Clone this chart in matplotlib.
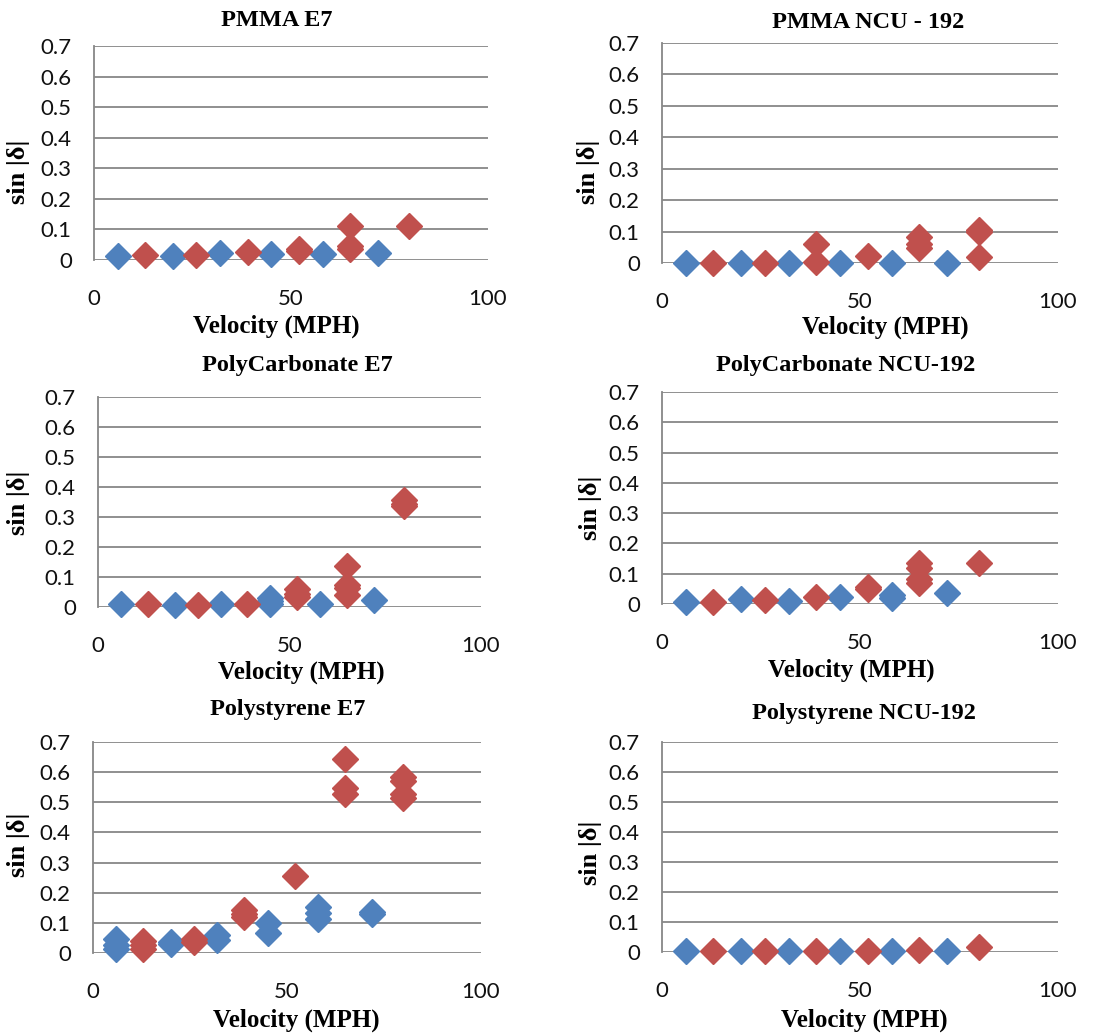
import matplotlib
matplotlib.use('Agg')
import matplotlib.pyplot as plt

# velocities (MPH) of the two series
blue_v = [6, 20, 32, 45, 58, 72]
red_v = [13, 26, 39, 52, 65, 80]

# sin|delta| readings at each velocity (several readings per velocity)
pmma_e7_blue = [[0.013], [0.014], [0.022], [0.018], [0.018], [0.022]]
pmma_e7_red = [[0.016], [0.016], [0.025], [0.028, 0.035], [0.112, 0.045, 0.035], [0.112]]

pmma_ncu_blue = [[0.001], [0.001], [0.001], [0.001], [0.001], [0.001]]
pmma_ncu_red = [[0.001], [0.001], [0.059, 0.004], [0.022], [0.084, 0.062, 0.047], [0.105, 0.100, 0.020]]

pc_e7_blue = [[0.009], [0.008], [0.009], [0.031, 0.020, 0.011], [0.011], [0.025]]
pc_e7_red = [[0.009], [0.008], [0.009], [0.061, 0.045, 0.033], [0.136, 0.072, 0.065, 0.039], [0.357, 0.345, 0.336]]

pc_ncu_blue = [[0.008], [0.015], [0.011], [0.022], [0.030, 0.019], [0.035]]
pc_ncu_red = [[0.008], [0.013], [0.022], [0.057, 0.048], [0.134, 0.118, 0.081, 0.070], [0.137]]

ps_e7_blue = [[0.048, 0.026, 0.014], [0.037, 0.029], [0.061, 0.042], [0.101, 0.067], [0.153, 0.133, 0.114], [0.137, 0.129]]
ps_e7_red = [[0.040, 0.026, 0.014], [0.048, 0.037], [0.142, 0.131, 0.120], [0.256], [0.642, 0.547, 0.528], [0.584, 0.569, 0.527, 0.514]]

ps_ncu_blue = [[0.002], [0.002], [0.002], [0.002], [0.002], [0.002]]
ps_ncu_red = [[0.002], [0.002], [0.002], [0.003], [0.008], [0.016]]

titles = ['PMMA E7', 'PMMA NCU - 192', 'PolyCarbonate E7', 'PolyCarbonate NCU-192',
          'Polystyrene E7', 'Polystyrene NCU-192']
blue_sets = [pmma_e7_blue, pmma_ncu_blue, pc_e7_blue, pc_ncu_blue, ps_e7_blue, ps_ncu_blue]
red_sets = [pmma_e7_red, pmma_ncu_red, pc_e7_red, pc_ncu_red, ps_e7_red, ps_ncu_red]
y_ticks = [0, 0.1, 0.2, 0.3, 0.4, 0.5, 0.6, 0.7]
y_tick_labels = ['0', '0.1', '0.2', '0.3', '0.4', '0.5', '0.6', '0.7']
x_ticks = [0, 50, 100]

W, H = 1109, 1035
# plot boxes in pixels: x0, x1, ytop, ybottom
boxes = [(94, 488, 46, 260), (662, 1058, 43, 263),
         (98, 481, 397, 607), (662, 1058, 392, 604),
         (93, 481, 742, 953), (662, 1058, 742, 952)]
# title, xlabel, ylabel centres in pixels
title_pos = [(277, 20), (868, 22), (297, 365), (846, 365), (288, 710), (864, 713)]
xlab_pos = [(276, 326), (885, 327), (301, 672), (851, 670), (296, 1020), (864, 1020)]
ylab_pos = [(18, 172), (588, 172), (18, 503), (590, 508), (18, 845), (590, 853)]

blue = '#4F81BD'
red = '#C0504D'
grid_c = '#878787'
serif = 'Liberation Serif'
sans = 'Lato'

fig = plt.figure(figsize=(W / 100, H / 100), dpi=100)

for i in range(6):
    x0, x1, yt, yb = boxes[i]
    ax = fig.add_axes([x0 / W, 1 - yb / H, (x1 - x0) / W, (yb - yt) / H])
    for vals, sets, col in [(blue_v, blue_sets[i], blue), (red_v, red_sets[i], red)]:
        xs = []
        ys = []
        for v, reads in zip(vals, sets):
            for r in reads:
                xs.append(v)
                ys.append(r)
        ax.plot(xs, ys, linestyle='none', marker='D', markersize=13.5, color=col,
                markeredgecolor=col, zorder=3, clip_on=False)
    ax.set_xlim(0, 100)
    ax.set_ylim(0, 0.7)
    ax.set_yticks(y_ticks)
    ax.set_yticklabels(y_tick_labels)
    ax.set_xticks(x_ticks)
    for yv in y_ticks:
        ax.axhline(yv, color=grid_c, linewidth=1.3, zorder=1)
    for s in ['top', 'right', 'bottom']:
        ax.spines[s].set_visible(False)
    ax.spines['left'].set_color(grid_c)
    ax.spines['left'].set_linewidth(1.3)
    ax.tick_params(axis='y', length=0, pad=16, labelsize=16)
    ax.tick_params(axis='x', length=0, pad=21, labelsize=16)
    for lab in ax.get_xticklabels() + ax.get_yticklabels():
        lab.set_fontfamily(sans)
        lab.set_color('#111111')

    tx, ty = title_pos[i]
    fig.text(tx / W, 1 - ty / H, titles[i], ha='center', va='center',
             fontsize=17.5, fontweight='bold', family=serif)
    lx, ly = xlab_pos[i]
    fig.text(lx / W, 1 - ly / H, 'Velocity (MPH)', ha='center', va='center',
             fontsize=18, fontweight='bold', family=serif)
    yx, yy = ylab_pos[i]
    fig.text(yx / W, 1 - yy / H, 'sin |δ|', ha='center', va='center', rotation=90,
             fontsize=19, fontweight='bold', family=serif)

fig.savefig('out.png', dpi=100, facecolor='white')
